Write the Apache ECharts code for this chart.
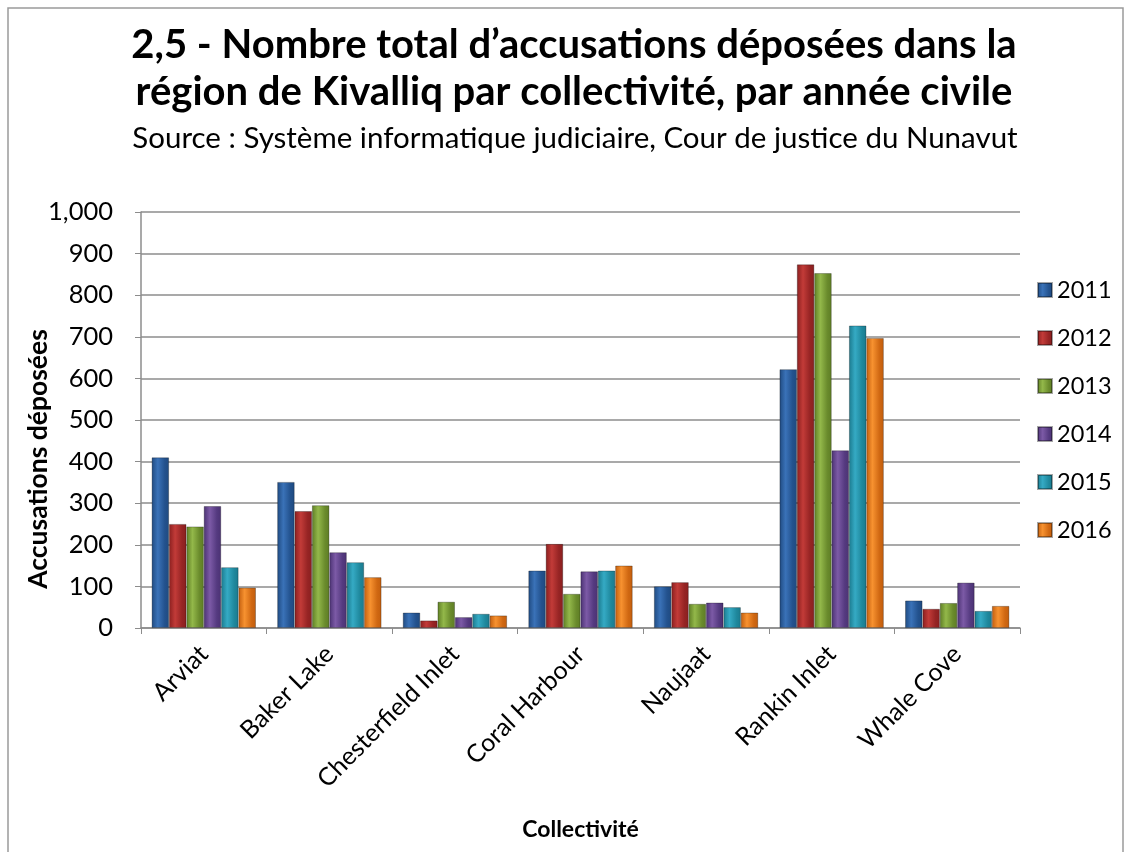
<!DOCTYPE html>
<html><head><meta charset="utf-8">
<script src="https://cdn.jsdelivr.net/npm/echarts@6/dist/echarts.min.js"></script>
<style>html,body{margin:0;padding:0;background:#fff}#c{width:1131px;height:852px}</style>
</head><body><div id="c"></div>
<script>
const categories = ['Arviat','Baker Lake','Chesterfield Inlet','Coral Harbour','Naujaat','Rankin Inlet','Whale Cove'];
const years = ['2011','2012','2013','2014','2015','2016'];
const v2011 = [410, 351, 37, 138, 100, 622, 66];
const v2012 = [250, 281, 18, 202, 110, 874, 46];
const v2013 = [244, 295, 63, 82, 58, 853, 60];
const v2014 = [293, 182, 26, 136, 61, 427, 109];
const v2015 = [146, 158, 34, 138, 50, 727, 41];
const v2016 = [97, 122, 30, 150, 37, 697, 53];
const yTicks = [0,100,200,300,400,500,600,700,800,900,1000];

const seriesValues = [v2011, v2012, v2013, v2014, v2015, v2016];
const palette = [
  ['#1f4a80','#3a72b8','#23528e'],
  ['#8a1f1f','#c23b38','#962424'],
  ['#5e7d25','#93b84a','#6a8b2c'],
  ['#4b3273','#7c5aa6','#553a80'],
  ['#1b7a8e','#35aac4','#1f889d'],
  ['#c25e0e','#f79230','#d06812']
];
const chart = echarts.init(document.getElementById('c'), null, {renderer:'canvas'});
const FONT = 'Lato, "Open Sans", sans-serif';
chart.setOption({
  animation:false,
  backgroundColor:'#fff',
  graphic:[
    {type:'rect', shape:{x:8,y:8,width:1115,height:860}, style:{fill:'none', stroke:'#9a9a9a', lineWidth:1.5}},
    {type:'text', x:38, y:459, rotation:Math.PI/2,
     style:{text:'Accusations déposées', fontFamily:FONT, fontWeight:'bold', fontSize:26.5, fill:'#000',
            align:'center', verticalAlign:'middle'}},
    {type:'text', x:574, y:45,
     style:{text:'2,5 - Nombre total d\u2019accusations déposées dans la', fontFamily:FONT, fontWeight:'bold', fontSize:40, fill:'#000',
            align:'center', verticalAlign:'middle'}},
    {type:'text', x:574, y:92,
     style:{text:'région de Kivalliq par collectivité, par année civile', fontFamily:FONT, fontWeight:'bold', fontSize:40, fill:'#000',
            align:'center', verticalAlign:'middle'}},
    {type:'text', x:575, y:138,
     style:{text:'Source : Système informatique judiciaire, Cour de justice du Nunavut', fontFamily:FONT, fontSize:29.5, fill:'#000',
            align:'center', verticalAlign:'middle'}}
  ],
  legend:{
    orient:'vertical', left:1032, top:273, itemGap:24, itemWidth:14, itemHeight:14,
    icon:'rect',
    textStyle:{fontFamily:FONT, fontSize:23.5, color:'#000'},
    data:years
  },
  grid:{left:141, right:111, top:212, bottom:224, containLabel:false},
  xAxis:{
    type:'category', data:categories,
    name:'Collectivité', nameLocation:'middle', nameGap:190,
    nameTextStyle:{fontFamily:FONT, fontWeight:'bold', fontSize:23, color:'#000'},
    axisLine:{lineStyle:{color:'#8c8c8c', width:1.5}},
    axisTick:{show:true, length:6, alignWithLabel:false, lineStyle:{color:'#8c8c8c'}},
    axisLabel:{rotate:45, fontFamily:FONT, fontSize:25, color:'#000', margin:22, interval:0}
  },
  yAxis:{
    type:'value', min:yTicks[0], max:yTicks[yTicks.length-1], interval:100,
    axisLine:{show:true, lineStyle:{color:'#8c8c8c', width:1.5}},
    axisTick:{show:true, length:6, lineStyle:{color:'#8c8c8c'}},
    splitLine:{lineStyle:{color:'#8c8c8c', width:1.5}},
    axisLabel:{fontFamily:FONT, fontSize:25.5, color:'#000', margin:28,
      formatter:v=>v.toLocaleString('en-US')}
  },
  series: years.map((y,i)=>({
    name:y, type:'bar', data:seriesValues[i],
    barGap:'0%', barCategoryGap:'17%',
    itemStyle:{
      color:new echarts.graphic.LinearGradient(0,0,1,0,[
        {offset:0,color:palette[i][0]},{offset:0.35,color:palette[i][1]},
        {offset:0.75,color:palette[i][2]},{offset:1,color:palette[i][0]}]),
      borderColor:'rgba(0,0,0,0.35)', borderWidth:0.8
    }
  }))
});
</script></body></html>
